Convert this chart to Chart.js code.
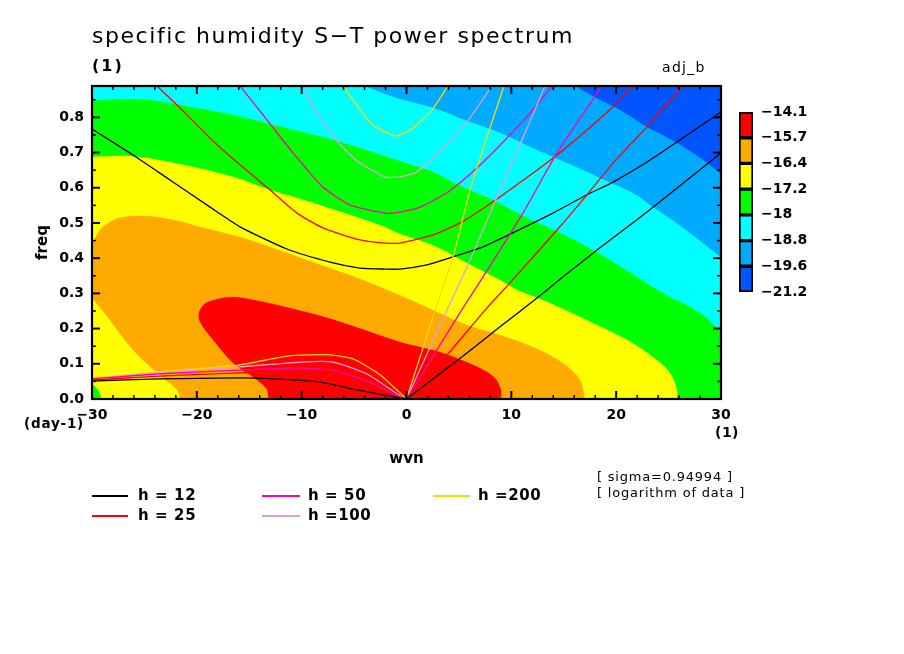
<!DOCTYPE html>
<html><head><meta charset="utf-8">
<script src="https://cdn.jsdelivr.net/npm/chart.js@4"></script>
<style>
html,body{margin:0;padding:0;background:#fff;width:904px;height:654px;overflow:hidden}
canvas{position:absolute;display:block}
</style></head>
<body>
<canvas id="main" width="904" height="654" style="left:0;top:0"></canvas>
<canvas id="bar" width="130" height="204" style="left:738px;top:100px"></canvas>
<script>
const titleText = 'specific humidity S\u2212T power spectrum';
const wvnMin = -30, wvnMax = 30, freqMin = 0, freqMax = 0.889;
const xMajor = [-30,-20,-10,0,10,20,30];
const xMinor = [-28,-26,-24,-22,-18,-16,-14,-12,-8,-6,-4,-2,2,4,6,8,12,14,16,18,22,24,26,28];
const yMajor = [0,0.1,0.2,0.3,0.4,0.5,0.6,0.7,0.8];
const yMinor = [0.05,0.15,0.25,0.35,0.45,0.55,0.65,0.75,0.85];

// colour-bar
const barLabels = ['\u221214.1','\u221215.7','\u221216.4','\u221217.2','\u221218','\u221218.8','\u221219.6','\u221221.2'];
const bandColors = ['#ff0000','#ffaa00','#ffff00','#00ff00','#00ffff','#00aaff','#0055ff'];

// filled contour regions [wvn, freq]
const regionBase = [[-30,0],[-30,0.889],[30,0.889],[30,0]];
const regionBlue = [[-30,0],[-30,0.889],[16.07,0.889],[18.46,0.849],[20.37,0.821],[22.94,0.773],[25.8,0.727],[28,0.685],[30,0.639],[30,0]];
const regionCyan = [[-30,0],[-30,0.889],[-3.96,0.889],[-2.05,0.866],[-0.62,0.852],[2.53,0.827],[5.77,0.79],[8.92,0.756],[12.07,0.713],[15.31,0.67],[18.46,0.628],[21.6,0.585],[23.51,0.545],[26.38,0.486],[30,0.403],[30,0]];
const regionGreen = [[-30,0],[-30,0.847],[-27.33,0.852],[-24.47,0.849],[-22.08,0.838],[-16.55,0.807],[-13.02,0.781],[-6.63,0.733],[-0.62,0.676],[2.53,0.645],[4.82,0.61],[8.25,0.565],[11.11,0.52],[14.64,0.472],[17.79,0.423],[21.03,0.365],[23.9,0.31],[28,0.244],[30,0.19],[30,0]];
const regionYellow = [[-30,0.043],[-30,0.688],[-26.38,0.69],[-22.56,0.673],[-16.55,0.631],[-13.02,0.594],[-8.25,0.551],[-2.53,0.494],[-0.62,0.469],[2.91,0.432],[5.77,0.386],[8.92,0.338],[10.54,0.31],[13.69,0.273],[17.22,0.224],[21.03,0.168],[23.51,0.119],[25.14,0.074],[25.8,0.026],[25.8,0],[-29.05,0],[-29.43,0.026]];
const regionOrange = [[-30,0.287],[-30,0.44],[-29.24,0.48],[-28.28,0.503],[-27.04,0.517],[-24.75,0.52],[-22.27,0.509],[-19.7,0.489],[-15.88,0.46],[-12.73,0.429],[-7.3,0.372],[-4.15,0.338],[-0.62,0.295],[2.53,0.253],[5.77,0.21],[8.92,0.182],[12.07,0.148],[14.93,0.102],[16.55,0.054],[17.03,0],[-21.61,0],[-21.89,0.026],[-23.8,0.074],[-26.09,0.139],[-28.28,0.224]];
const regionRed = [[-13.21,0],[-13.31,0.026],[-14.26,0.054],[-16.55,0.102],[-18.46,0.168],[-19.7,0.219],[-19.79,0.247],[-18.93,0.276],[-16.55,0.29],[-13.69,0.276],[-8.54,0.239],[-5.39,0.21],[-0.62,0.162],[2.53,0.139],[4.82,0.116],[7.01,0.088],[8.44,0.06],[9.01,0.026],[9.01,0]];

// dispersion curves: straight-ish eastward branch
const east12 = [[0,0],[4.91,0.111],[8.92,0.205],[12.45,0.287],[14.93,0.347],[18.17,0.423],[22.94,0.531],[30,0.699]];
const east25 = [[0,0],[3.86,0.125],[7.68,0.259],[9.87,0.33],[14.36,0.48],[17.22,0.58],[19.7,0.67],[22.94,0.773],[26.38,0.889]];
const east50 = [[0,0],[5.39,0.259],[7.3,0.347],[11.11,0.528],[14.36,0.699],[18.65,0.889]];
const east100 = [[0,0],[3.96,0.259],[5.77,0.375],[8.63,0.574],[11.02,0.736],[13.21,0.889]];
const east200 = [[0,0],[2.81,0.259],[4.44,0.403],[6.06,0.594],[7.97,0.77],[9.3,0.889]];
// parabola-like upper branch
const upper12 = [[-30,0.767],[-26.09,0.693],[-22.56,0.622],[-18.74,0.545],[-15.88,0.489],[-11.4,0.426],[-7.3,0.389],[-4.44,0.372],[-2.05,0.369],[-0.62,0.369],[1.96,0.381],[4.15,0.401],[7.3,0.432],[11.11,0.486],[13.97,0.528],[17.22,0.58],[19.7,0.616],[22.94,0.673],[25.8,0.73],[30,0.815]];
const upper25 = [[-23.8,0.889],[-21.89,0.835],[-18.46,0.733],[-15.88,0.665],[-13.02,0.594],[-10.44,0.528],[-7.97,0.486],[-4.44,0.452],[-2.05,0.443],[-0.62,0.443],[2.53,0.466],[5.29,0.503],[8.25,0.56],[12.07,0.642],[14.36,0.693],[17.22,0.764],[19.7,0.83],[21.6,0.889]];
const upper50 = [[-15.88,0.889],[-13.31,0.793],[-10.83,0.699],[-7.97,0.602],[-5.39,0.551],[-2.05,0.528],[-0.62,0.531],[1.29,0.545],[3.96,0.588],[6.82,0.659],[9.68,0.744],[12.07,0.821],[13.88,0.889]];
const upper100 = [[-9.97,0.889],[-8.54,0.813],[-6.63,0.733],[-4.72,0.676],[-2.05,0.631],[-0.62,0.631],[1,0.645],[3.48,0.713],[5.77,0.787],[8.16,0.889]];
const upper200 = [[-6.06,0.889],[-4.91,0.841],[-3.2,0.778],[-1.1,0.747],[-0.62,0.75],[0.62,0.77],[2.43,0.821],[3.96,0.889]];
// low-frequency westward branch
const west12 = [[-30,0.051],[-23.5,0.057],[-15.88,0.06],[-12.54,0.057],[-8.25,0.048],[-4.72,0.026],[-0.62,0.003],[0,0]];
const west25 = [[-30,0.054],[-23.5,0.065],[-15.88,0.074],[-11.11,0.074],[-7.3,0.06],[-3.77,0.031],[0,0]];
const west50 = [[-30,0.057],[-23.8,0.071],[-15.88,0.082],[-10.15,0.088],[-7.01,0.082],[-3.77,0.051],[-0.62,0.006],[0,0]];
const west100 = [[-30,0.058],[-23.8,0.074],[-15.88,0.091],[-10.15,0.105],[-7.01,0.105],[-3.77,0.071],[-0.62,0.009],[0,0]];
const west200 = [[-30,0.06],[-23.8,0.077],[-15.88,0.097],[-11.4,0.122],[-7.58,0.126],[-5.1,0.114],[-2.53,0.069],[-0.62,0.017],[0,0]];

const heights = ['h = 12','h = 25','h = 50','h =100','h =200'];
const heightColors = ['#000000','#ff0000','#ff00aa','#dda0dd','#ffd700'];

const toPts = a => a.map(p => ({x:p[0], y:p[1]}));
const onEdge = p => p[0]===wvnMin || p[0]===wvnMax || p[1]===freqMin || p[1]===freqMax;
const keepCorners = a => a.flatMap(p => onEdge(p) ? [p,p] : [p]);
const curve = (arr,i) => ({label:heights[i], data:toPts(arr), borderColor:heightColors[i], borderWidth:1.3, pointRadius:0, fill:false, tension:0.2, showLine:true});
const region = (arr,c,name) => ({label:name, data:toPts(keepCorners(arr)), borderColor:c, backgroundColor:c, borderWidth:0, pointRadius:0, fill:'shape', tension:0.35, showLine:true});

const datasets = [
  curve(east12,0),curve(east25,1),curve(east50,2),curve(east100,3),curve(east200,4),
  curve(west12,0),curve(west25,1),curve(west50,2),curve(west100,3),curve(west200,4),
  curve(upper12,0),curve(upper25,1),curve(upper50,2),curve(upper100,3),curve(upper200,4),
  region(regionRed,bandColors[0],'r'),region(regionOrange,bandColors[1],'o'),region(regionYellow,bandColors[2],'y'),
  region(regionGreen,bandColors[3],'g'),region(regionCyan,bandColors[4],'c'),region(regionBlue,bandColors[5],'b'),
  region(regionBase,bandColors[6],'d')
];

const LBL = '"DejaVu Sans"';
function txt(ctx,s,x,y,font,spacing,align){
  ctx.save();ctx.font=font;ctx.fillStyle='#000';ctx.textBaseline='middle';ctx.textAlign=align||'left';
  ctx.letterSpacing=(spacing||0)+'px';ctx.fillText(s,x,y);ctx.restore();
}
const decor = {
  id:'decor',
  afterLayout(chart){
    const tb = chart.titleBlock;
    if(tb && !tb._wrapped){
      const d = tb.draw;
      tb.draw = function(){const c=chart.ctx;c.save();c.letterSpacing='1.55px';d.call(this);c.restore();};
      tb._wrapped = true;
    }
  },
  afterDatasetsDraw(chart){
    const {ctx,chartArea:a,scales:{x,y}} = chart;
    ctx.save();ctx.strokeStyle='#000';
    const tick=(x0,y0,x1,y1,w)=>{ctx.lineWidth=w;ctx.beginPath();ctx.moveTo(x0,y0);ctx.lineTo(x1,y1);ctx.stroke();};
    xMajor.forEach(v=>{const p=x.getPixelForValue(v);tick(p,a.bottom,p,a.bottom-8,2);tick(p,a.top,p,a.top+8,2);});
    xMinor.forEach(v=>{const p=x.getPixelForValue(v);tick(p,a.bottom,p,a.bottom-4,1.5);tick(p,a.top,p,a.top+4,1.5);});
    yMajor.forEach(v=>{const p=y.getPixelForValue(v);tick(a.left,p,a.left+8,p,2);tick(a.right,p,a.right-8,p,2);});
    yMinor.forEach(v=>{const p=y.getPixelForValue(v);tick(a.left,p,a.left+4,p,1.5);tick(a.right,p,a.right-4,p,1.5);});
    ctx.lineWidth=2.2;ctx.strokeRect(a.left,a.top,a.right-a.left,a.bottom-a.top);
    ctx.restore();
  },
  afterDraw(chart){
    const ctx=chart.ctx;
    txt(ctx,'(1)',92,67,'bold 16px '+LBL,2);
    txt(ctx,'adj_b',662,68,'14px '+LBL,1.3);
    txt(ctx,'(day-1)',24,424,'bold 13.5px '+LBL,0.8);
    txt(ctx,'(1)',727,433,'bold 14px '+LBL,0.5,'center');
    txt(ctx,'[ sigma=0.94994 ]',597,478,'13px '+LBL,0.79);
    txt(ctx,'[ logarithm of data ]',597,494,'13px '+LBL,0.8);
    const cols=[[92,128,138],[262,300,308],[433,470,478]];
    const rows=[496,516];
    heights.forEach((h,i)=>{
      const c=cols[Math.floor(i/2)],yy=rows[i%2];
      ctx.save();ctx.strokeStyle=heightColors[i];ctx.lineWidth=2;
      ctx.beginPath();ctx.moveTo(c[0],yy);ctx.lineTo(c[1],yy);ctx.stroke();ctx.restore();
      txt(ctx,h,c[2],yy,'bold 15px '+LBL,0.6);
    });
  }
};

new Chart(document.getElementById('main'),{
  type:'line',
  data:{datasets},
  plugins:[decor],
  options:{
    responsive:false,animation:false,devicePixelRatio:1,
    layout:{padding:{left:0,top:0,right:183,bottom:0}},
    plugins:{
      legend:{display:false},tooltip:{enabled:false},
      title:{display:true,text:titleText,align:'start',fullSize:false,color:'#000',
        font:{family:'DejaVu Sans',size:22,weight:'normal',lineHeight:1.2},
        padding:{top:24,bottom:35.6}}
    },
    scales:{
      x:{type:'linear',min:wvnMin,max:wvnMax,
        afterFit(s){s.height=255;},
        border:{display:false},grid:{display:false},
        ticks:{stepSize:10,maxRotation:0,padding:0,color:'#000',autoSkip:false,
          font:{family:'DejaVu Sans',size:14,weight:'bold'},
          callback:v=>String(v).replace('-','\u2212')},
        title:{display:true,text:'wvn',color:'#000',font:{family:'DejaVu Sans',size:15,weight:'bold'},padding:{top:0,bottom:186}}
      },
      y:{type:'linear',min:freqMin,max:freqMax,
        afterFit(s){s.width=92;},
        border:{display:false},grid:{display:false},
        ticks:{stepSize:0.1,padding:0,color:'#000',includeBounds:false,
          font:{family:'DejaVu Sans',size:14,weight:'bold'},
          callback:v=>Number(v).toFixed(1)},
        title:{display:true,text:'freq',color:'#000',font:{family:'DejaVu Sans',size:15,weight:'bold'},padding:{top:34,bottom:0}}
      }
    }
  }
});

new Chart(document.getElementById('bar'),{
  type:'bar',
  data:{labels:['level'],datasets:bandColors.map((c,i)=>({label:barLabels[i],data:[1],backgroundColor:c,borderColor:'#000',borderWidth:2,borderSkipped:false,stack:'s'})).reverse()},
  options:{
    responsive:false,animation:false,devicePixelRatio:1,
    layout:{padding:{top:12,bottom:12,left:1}},
    plugins:{legend:{display:false},tooltip:{enabled:false},title:{display:false}},
    datasets:{bar:{barPercentage:1,categoryPercentage:1}},
    scales:{
      x:{display:false,stacked:true},
      y:{position:'right',stacked:true,min:0,max:7,
        afterFit(s){s.width=115;s.paddingTop=0;s.paddingBottom=0;},
        border:{display:false},grid:{display:false,drawTicks:false},
        ticks:{stepSize:1,padding:8,color:'#000',autoSkip:false,
          font:{family:'DejaVu Sans',size:14,weight:'bold'},
          callback:v=>barLabels[7-v]}
      }
    }
  }
});
</script>
</body></html>
